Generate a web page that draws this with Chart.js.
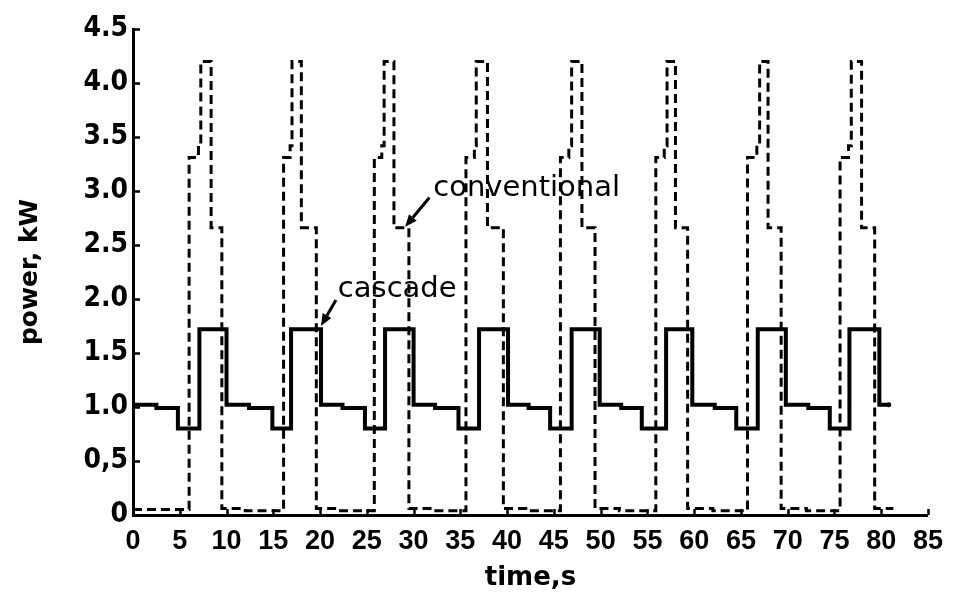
<!DOCTYPE html>
<html>
<head>
<meta charset="utf-8">
<script src="https://cdn.jsdelivr.net/npm/chart.js@4.4.1/dist/chart.umd.min.js"></script>
<style>
  html, body { margin: 0; padding: 0; background: #fff; }
  #wrap { width: 953px; height: 597px; }
</style>
</head>
<body>
<div id="wrap"><canvas id="c" width="953" height="597"></canvas></div>
<script>
// Power drawn by the two drive schemes over eight duty cycles (stepped traces).
// Each value holds until the next time stamp.
const cascadeTime = [
  0, 2.5, 4.8, 7.1, 10.0,
  12.4, 14.9, 16.9, 20.1,
  22.4, 24.8, 26.95, 30.0,
  32.3, 34.8, 37.0, 40.1,
  42.3, 44.6, 46.9, 49.9,
  52.2, 54.4, 57.0, 59.8,
  62.2, 64.5, 66.8, 69.8,
  72.2, 74.5, 76.6, 79.8,
  80.8
];
const cascadeKw = [
  1.02, 0.99, 0.80, 1.72, 1.02,
  0.99, 0.80, 1.72, 1.02,
  0.99, 0.80, 1.72, 1.02,
  0.99, 0.80, 1.72, 1.02,
  0.99, 0.80, 1.72, 1.02,
  0.99, 0.80, 1.72, 1.02,
  0.99, 0.80, 1.72, 1.02,
  0.99, 0.80, 1.72, 1.02,
  1.02
];

const conventionalTime = [
  0,
  6.0, 7.0, 7.25, 8.35, 9.5, 12.0,
  16.1, 16.8, 17.0, 18.0, 19.6, 22.0,
  25.8, 26.6, 26.85, 27.9, 29.5, 32.0,
  35.6, 36.5, 36.7, 37.9, 39.6, 42.0,
  45.7, 46.6, 46.9, 48.0, 49.4, 52.0,
  55.9, 56.8, 57.1, 58.0, 59.3, 62.0,
  65.7, 66.7, 67.0, 67.9, 69.3, 72.0,
  75.6, 76.5, 76.8, 77.9, 79.3, 81.3
];
const conventionalKw = [
  0.05,
  3.31, 3.42, 4.20, 2.66, 0.06, 0.04,
  3.31, 3.42, 4.20, 2.66, 0.06, 0.04,
  3.31, 3.42, 4.20, 2.66, 0.06, 0.04,
  3.31, 3.42, 4.20, 2.66, 0.06, 0.04,
  3.31, 3.42, 4.20, 2.66, 0.06, 0.04,
  3.31, 3.42, 4.20, 2.66, 0.06, 0.04,
  3.31, 3.42, 4.20, 2.66, 0.06, 0.04,
  3.31, 3.42, 4.20, 2.66, 0.06, 0.06
];

const xTicks = [0, 5, 10, 15, 20, 25, 30, 35, 40, 45, 50, 55, 60, 65, 70, 75, 80, 85];
const yTicks = [0, 0.5, 1.0, 1.5, 2.0, 2.5, 3.0, 3.5, 4.0, 4.5];
const yTickLabels = ['0', '0,5', '1.0', '1.5', '2.0', '2.5', '3.0', '3.5', '4.0', '4.5'];

const seriesNames = ['cascade', 'conventional'];

// Callout labels with arrows, placed in data units (time, kW).
const callouts = [
  { text: 'conventional', at: [32.1, 3.02], from: [31.7, 2.94], to: [29.1, 2.67] },
  { text: 'cascade',      at: [21.9, 2.09], from: [21.7, 1.99], to: [20.1, 1.75] }
];

const pairs = (xs, ys) => xs.map((t, i) => ({ x: t, y: ys[i] }));

const INK = '#000';
const narrowFont = '"Liberation Sans Narrow", "Liberation Sans", Arial, sans-serif';
const wideFont = '"DejaVu Sans Condensed", "DejaVu Sans", sans-serif';

// Tick marks pointing into the plot, plus the arrowed callouts.
const axisDecor = {
  id: 'axisDecor',
  afterDraw(chart) {
    const { ctx, scales: { x, y } } = chart;
    ctx.save();
    ctx.strokeStyle = INK;
    ctx.fillStyle = INK;
    ctx.lineWidth = 2.5;
    yTicks.forEach(v => {
      const py = Math.round(y.getPixelForValue(v)) + 0.5;
      ctx.beginPath();
      ctx.moveTo(x.left, py);
      ctx.lineTo(x.left + 7, py);
      ctx.stroke();
    });
    xTicks.forEach(v => {
      const px = Math.round(x.getPixelForValue(v)) + 0.5;
      ctx.beginPath();
      ctx.moveTo(px, y.bottom);
      ctx.lineTo(px, y.bottom - 6);
      ctx.stroke();
    });

    ctx.font = '29px "DejaVu Sans", sans-serif';
    ctx.textBaseline = 'middle';
    ctx.textAlign = 'left';
    callouts.forEach(c => {
      ctx.fillText(c.text, x.getPixelForValue(c.at[0]), y.getPixelForValue(c.at[1]));
      const x0 = x.getPixelForValue(c.from[0]), y0 = y.getPixelForValue(c.from[1]);
      const x1 = x.getPixelForValue(c.to[0]), y1 = y.getPixelForValue(c.to[1]);
      const ang = Math.atan2(y1 - y0, x1 - x0);
      const head = 12, half = 5;
      const bx = x1 - head * Math.cos(ang), by = y1 - head * Math.sin(ang);
      ctx.lineWidth = 3;
      ctx.beginPath();
      ctx.moveTo(x0, y0);
      ctx.lineTo(bx, by);
      ctx.stroke();
      ctx.beginPath();
      ctx.moveTo(x1, y1);
      ctx.lineTo(bx + half * Math.sin(ang), by - half * Math.cos(ang));
      ctx.lineTo(bx - half * Math.sin(ang), by + half * Math.cos(ang));
      ctx.closePath();
      ctx.fill();
    });
    ctx.restore();
  }
};

new Chart(document.getElementById('c'), {
  type: 'line',
  data: {
    datasets: [
      {
        label: seriesNames[0],
        data: pairs(cascadeTime, cascadeKw),
        stepped: 'before',
        borderColor: INK,
        borderWidth: 4,
        borderJoinStyle: 'miter',
        pointRadius: ctx => (ctx.dataIndex === cascadeTime.length - 1 ? 2.5 : 0),
        pointBackgroundColor: INK,
        pointBorderWidth: 0,
        fill: false
      },
      {
        label: seriesNames[1],
        data: pairs(conventionalTime, conventionalKw),
        stepped: 'before',
        borderColor: INK,
        borderWidth: 3,
        borderDash: [9, 5],
        borderJoinStyle: 'miter',
        pointRadius: 0,
        fill: false
      }
    ]
  },
  options: {
    responsive: false,
    animation: false,
    devicePixelRatio: 1,
    layout: { padding: { left: 0, top: 29, right: 16, bottom: 0 } },
    plugins: { legend: { display: false }, tooltip: { enabled: false } },
    scales: {
      x: {
        type: 'linear',
        min: 0,
        max: 85,
        afterBuildTicks: s => { s.ticks = xTicks.map(v => ({ value: v })); },
        afterFit: s => { s.height = 82; },
        grid: { display: false, drawTicks: false },
        border: { display: true, color: INK, width: 3 },
        ticks: {
          color: INK,
          padding: 10,
          maxRotation: 0,
          autoSkip: false,
          font: { family: narrowFont, size: 27, weight: 'bold', lineHeight: 1.2 }
        },
        title: {
          display: true,
          text: 'time,s',
          color: INK,
          font: { family: '"DejaVu Sans", sans-serif', size: 26, weight: 'bold', lineHeight: 1 },
          padding: { top: 0, bottom: 6 }
        }
      },
      y: {
        type: 'linear',
        min: 0,
        max: 4.5,
        afterBuildTicks: s => { s.ticks = yTicks.map(v => ({ value: v })); },
        afterFit: s => { s.width = 133; },
        grid: { display: false, drawTicks: false },
        border: { display: true, color: INK, width: 3 },
        ticks: {
          color: INK,
          padding: 5,
          autoSkip: false,
          font: { family: wideFont, size: 28, weight: 'bold', lineHeight: 1.2 },
          callback: v => yTickLabels[yTicks.indexOf(v)]
        },
        title: {
          display: true,
          text: 'power, kW',
          color: INK,
          font: { family: '"DejaVu Sans", sans-serif', size: 25, weight: 'bold', lineHeight: 1 },
          padding: { top: 18, bottom: 0 }
        }
      }
    }
  },
  plugins: [axisDecor]
});
</script>
</body>
</html>
